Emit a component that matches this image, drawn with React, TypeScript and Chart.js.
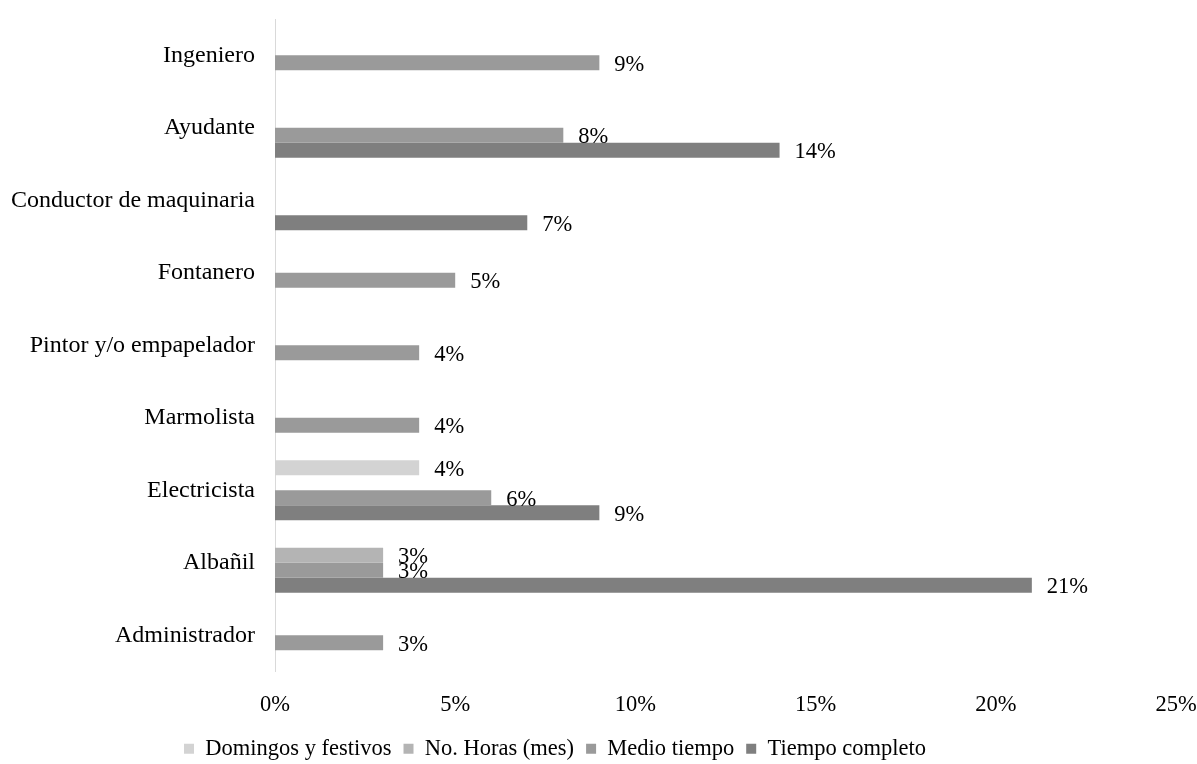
import React, { useEffect, useRef } from "react";
import { Chart, registerables } from "chart.js";

Chart.register(...registerables);

const categories = [
  "Ingeniero",
  "Ayudante",
  "Conductor de maquinaria",
  "Fontanero",
  "Pintor y/o empapelador",
  "Marmolista",
  "Electricista",
  "Albañil",
  "Administrador",
];

const domingosFestivos = [null, null, null, null, null, null, 4, null, null];
const noHorasMes = [null, null, null, null, null, null, null, 3, null];
const medioTiempo = [9, 8, null, 5, 4, 4, 6, 3, 3];
const tiempoCompleto = [null, 14, 7, null, null, null, 9, 21, null];

const seriesNames = ["Domingos y festivos", "No. Horas (mes)", "Medio tiempo", "Tiempo completo"];
const seriesColors = ["#d3d3d3", "#b4b4b4", "#9a9a9a", "#7f7f7f"];

const xTicks = [0, 5, 10, 15, 20, 25];

const FONT = "'Liberation Serif', 'Times New Roman', serif";

const valueLabels = {
  id: "valueLabels",
  afterDatasetsDraw(chart: any) {
    const ctx = chart.ctx;
    ctx.save();
    ctx.font = `22.5px ${FONT}`;
    ctx.fillStyle = "#000000";
    ctx.textAlign = "left";
    ctx.textBaseline = "middle";
    chart.data.datasets.forEach((ds: any, i: number) => {
      const meta = chart.getDatasetMeta(i);
      meta.data.forEach((el: any, j: number) => {
        const v = ds.data[j];
        if (v === null || v === undefined) return;
        ctx.fillText(`${v}%`, el.x + 15, el.y + 2);
      });
    });
    ctx.restore();
  },
};

const legendShift = {
  id: "legendShift",
  afterLayout(chart: any) {
    const lg = chart.legend;
    if (lg) {
      lg.left = 0;
      lg.right = 1110;
      lg.top += 6;
      lg.bottom += 6;
    }
  },
};

export default function App() {
  const canvasRef = useRef<HTMLCanvasElement | null>(null);

  useEffect(() => {
    if (!canvasRef.current) return;
    const allSeries = [domingosFestivos, noHorasMes, medioTiempo, tiempoCompleto];
    const chart = new Chart(canvasRef.current, {
      type: "bar",
      data: {
        labels: categories,
        datasets: allSeries.map((d, i) => ({
          label: seriesNames[i],
          data: d as any,
          backgroundColor: seriesColors[i],
          borderWidth: 0,
          categoryPercentage: 0.83,
          barPercentage: 1,
        })),
      },
      options: {
        indexAxis: "y",
        animation: false,
        responsive: true,
        maintainAspectRatio: false,
        layout: { padding: { top: 19, right: 21, left: 0, bottom: 0 } },
        scales: {
          x: {
            min: 0,
            max: 25,
            afterBuildTicks: (scale: any) => {
              scale.ticks = xTicks.map((v) => ({ value: v }));
            },
            afterFit: (scale: any) => {
              scale.height = 48;
              scale.paddingLeft = 0;
              scale.paddingRight = 0;
            },
            grid: { display: false, drawTicks: false },
            border: { display: false },
            ticks: {
              padding: 20,
              color: "#000000",
              font: { family: FONT, size: 22.5 },
              callback: (v: any) => `${v}%`,
            },
          },
          y: {
            afterFit: (scale: any) => {
              scale.width = 275;
              scale.paddingTop = 0;
              scale.paddingBottom = 0;
            },
            grid: { display: false, drawTicks: false },
            border: { display: true, color: "#d9d9d9", width: 1 },
            ticks: {
              padding: 20,
              color: "#000000",
              font: { family: FONT, size: 24 },
            },
          },
        },
        plugins: {
          legend: {
            position: "bottom",
            labels: {
              boxWidth: 10,
              boxHeight: 10,
              padding: 12,
              color: "#000000",
              font: { family: FONT, size: 22.5 },
            },
          },
          tooltip: { enabled: false },
        },
      },
      plugins: [valueLabels, legendShift],
    });
    return () => chart.destroy();
  }, []);

  return (
    <div style={{ position: "fixed", left: 0, top: 0, width: 1197, height: 764, background: "#fff" }}>
      <canvas ref={canvasRef} />
    </div>
  );
}
